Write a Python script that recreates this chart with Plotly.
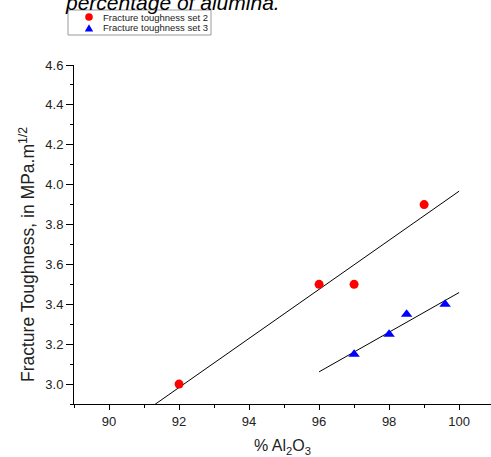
import numpy as np
import plotly.graph_objects as go

# Alumina content (% Al2O3) and measured fracture toughness (MPa·m^1/2)
set2_alumina = [92.0, 96.0, 97.0, 99.0]
set2_toughness = [3.0, 3.5, 3.5, 3.9]
set3_alumina = [97.0, 98.0, 98.5, 99.6]
set3_toughness = [3.15, 3.25, 3.35, 3.40]

series_names = ["Fracture toughness set 2", "Fracture toughness set 3"]
series_colors = ["#ff0000", "#0000ff"]

# x-extent of each linear fit
set2_fit_span = [89.0, 100.0]
set3_fit_span = [96.0, 100.0]

FONT = "Arial, Liberation Sans, sans-serif"

# figure geometry (pixels)
W, H = 491, 457
ML, MR, MT, MB = 74, 0, 65, 53
PW, PH = W - ML - MR, H - MT - MB


def px_to_paper(px, py):
    return (px - ML) / PW, (H - MB - py) / PH


def linear_fit(x, y, span):
    slope, intercept = np.polyfit(x, y, 1)
    xs = np.array(span)
    return xs, slope * xs + intercept


fig = go.Figure()

fx2, fy2 = linear_fit(set2_alumina, set2_toughness, set2_fit_span)
fx3, fy3 = linear_fit(set3_alumina, set3_toughness, set3_fit_span)

fig.add_trace(go.Scatter(x=fx2, y=fy2, mode="lines", line=dict(color="black", width=1),
                         showlegend=False, hoverinfo="skip"))
fig.add_trace(go.Scatter(x=fx3, y=fy3, mode="lines", line=dict(color="black", width=1),
                         showlegend=False, hoverinfo="skip"))

fig.add_trace(go.Scatter(x=set2_alumina, y=set2_toughness, mode="markers",
                         name=series_names[0], showlegend=False,
                         marker=dict(symbol="circle", size=9, color=series_colors[0])))
fig.add_trace(go.Scatter(x=set3_alumina, y=set3_toughness, mode="markers",
                         name=series_names[1], showlegend=False,
                         marker=dict(symbol="triangle-up", size=10, color=series_colors[1])))

# compact legend box drawn in paper space
bx0, by0 = px_to_paper(68, 35)
bx1, by1 = px_to_paper(211, 10)
fig.add_shape(type="rect", xref="paper", yref="paper", x0=bx0, y0=by0, x1=bx1, y1=by1,
              line=dict(color="#999", width=1), fillcolor="white", layer="above")

row_y = [17, 28]
mx, _ = px_to_paper(89, 0)
tx, _ = px_to_paper(101, 0)
for i, (name, color) in enumerate(zip(series_names, series_colors)):
    _, ry = px_to_paper(0, row_y[i])
    if i == 0:
        fig.add_shape(type="circle", xref="paper", yref="paper",
                      xsizemode="pixel", ysizemode="pixel", xanchor=mx, yanchor=ry,
                      x0=-3.8, x1=3.8, y0=-3.8, y1=3.8,
                      line=dict(width=0), fillcolor=color, layer="above")
    else:
        fig.add_shape(type="path", xref="paper", yref="paper",
                      xsizemode="pixel", ysizemode="pixel", xanchor=mx, yanchor=ry,
                      path="M -4.2,-3.5 L 4.2,-3.5 L 0,3.8 Z",
                      line=dict(width=0), fillcolor=color, layer="above")
    fig.add_annotation(text=name, xref="paper", yref="paper", x=tx, y=ry,
                       xanchor="left", yanchor="middle", showarrow=False,
                       font=dict(family=FONT, size=9.5, color="#222"))

tix, tiy = px_to_paper(63, 16)
fig.add_annotation(text="<i>percentage of alumina.</i>", xref="paper", yref="paper",
                   x=tix, y=tiy, xanchor="left", yanchor="bottom", showarrow=False,
                   font=dict(family=FONT, size=21, color="black"))

ytx, yty = px_to_paper(27, 255)
fig.add_annotation(text="Fracture Toughness, in MPa.m<sup>1/2</sup>", xref="paper", yref="paper",
                   x=ytx, y=yty, xanchor="center", yanchor="middle", textangle=-90,
                   showarrow=False, font=dict(family=FONT, size=17.5, color="#222"))

fig.update_layout(
    width=W, height=H,
    margin=dict(l=ML, r=MR, t=MT, b=MB),
    plot_bgcolor="white", paper_bgcolor="white",
    font=dict(family=FONT, size=13, color="#222"),
    showlegend=False,
    xaxis=dict(range=[89, 100.91], showgrid=False, zeroline=False,
               showline=True, linecolor="black", linewidth=1,
               ticks="outside", ticklen=5, tickcolor="black", dtick=2, tick0=90,
               minor=dict(ticks="outside", ticklen=3, dtick=1, tickcolor="black"),
               title=dict(text="% Al<sub>2</sub>O<sub>3</sub>", font=dict(size=16, color="#222"),
                          standoff=12)),
    yaxis=dict(range=[2.9, 4.6], showgrid=False, zeroline=False,
               showline=True, linecolor="black", linewidth=1,
               ticks="outside", ticklen=7, tickcolor="black", dtick=0.2, tick0=3.0,
               tickformat=".1f",
               minor=dict(ticks="outside", ticklen=3, dtick=0.1, tickcolor="black")),
)

fig.write_html("out.html")
